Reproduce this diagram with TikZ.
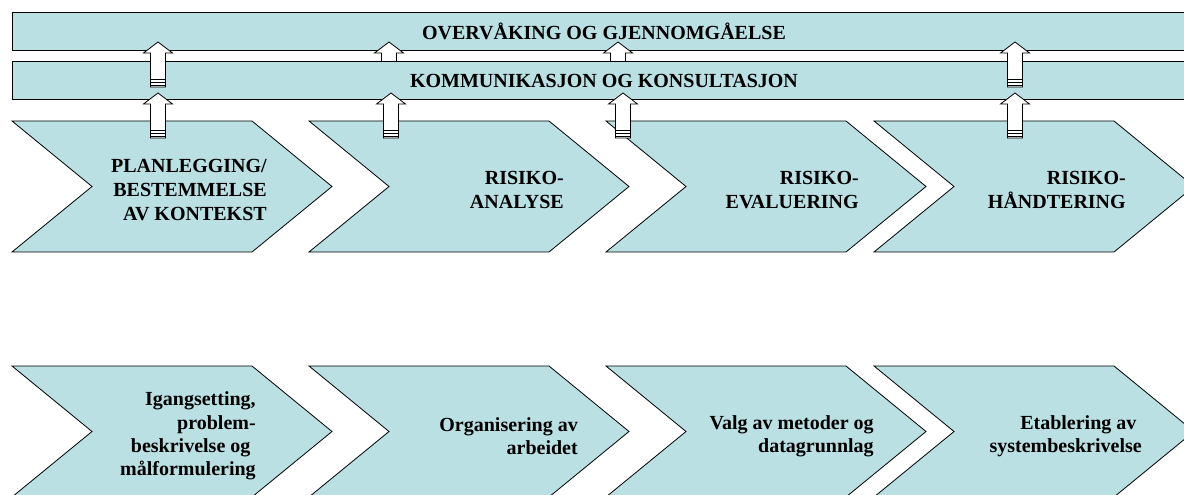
\documentclass[tikz,border=0pt]{standalone}
\usepackage{fontspec}
\setmainfont{Liberation Serif}
\usepackage{tikz}
\usetikzlibrary{positioning}
\definecolor{paleblue}{RGB}{187,224,227}

% chevron with top left corner at (#1,#2)
\newcommand{\chevron}[2]{%
  \draw[Chev] (#1,#2) -- ++(240,0) -- ++(80,65.5) -- ++(-80,65.5)
    -- ++(-240,0) -- ++(80,-65.5) -- cycle;
}
% striped up arrow with its tip at (#1,#2)
\newcommand{\blockarrow}[2]{%
  \draw[Blk] (#1,#2) -- ++(14.5,11) -- ++(-7,0) -- ++(0,34) -- ++(-15,0)
    -- ++(0,-34) -- ++(-7,0) -- cycle;
  \foreach \s in {37.5,40.5,43.5}
    \draw[line width=1.2pt] (#1-7.5,#2+\s) -- ++(15,0);
}

\begin{document}
\begin{tikzpicture}
  [
    x=0.75pt, y=-0.75pt,
    Bar/.style={rectangle, draw=black, fill=paleblue, line width=0.6pt,
      minimum width=888pt, minimum height=28.5pt, inner sep=0pt,
      font=\bfseries\fontsize{15}{17.5}\selectfont},
    Chev/.style={draw=black, fill=paleblue, line width=0.6pt, line join=miter},
    Blk/.style={draw=black, fill=white, line width=0.6pt},
    Step/.style={align=right, anchor=east, inner sep=0pt,
      font=\bfseries\fontsize{15}{17.5}\selectfont},
    StepCaps/.style={Step, font=\bfseries\fontsize{15}{18}\selectfont}
  ]
  \useasboundingbox (0,0) rectangle (1184,495);
  % Bars
  \node[Bar] (overv) at (604,31) {OVERVÅKING OG GJENNOMGÅELSE};
  \blockarrow{389}{42}
  \blockarrow{618}{42}
  \node[Bar] (komm) at (604,80.5) {KOMMUNIKASJON OG KONSULTASJON};
  \blockarrow{158}{42}
  \blockarrow{1015}{42}
  % Chevrons
  \foreach \cx in {12,309,606,874} {
    \chevron{\cx}{121}
    \chevron{\cx}{366}
  }
  % Nodes
  \node[StepCaps] (plan) at (267,190) {PLANLEGGING/\\BESTEMMELSE\\AV KONTEKST};
  \node[StepCaps] (anal) at (564,190) {RISIKO-\\ANALYSE};
  \node[StepCaps] (eval) at (859,190) {RISIKO-\\EVALUERING};
  \node[StepCaps] (hand) at (1126,190) {RISIKO-\\HÅNDTERING};
  \node[Step] (igang) at (256,436) {Igangsetting,\\problem-\\beskrivelse og\kern4pt\\målformulering};
  \node[Step] (organ) at (578,436) {Organisering av\\arbeidet};
  \node[Step] (valg) at (874,436) {Valg av metoder og\\datagrunnlag};
  \node[Step] (etab) at (1142,436) {Etablering av\kern4pt\\systembeskrivelse};
  % Arrows
  \blockarrow{158}{93}
  \blockarrow{391}{93}
  \blockarrow{623}{93}
  \blockarrow{1015}{93}
\end{tikzpicture}
\end{document}
